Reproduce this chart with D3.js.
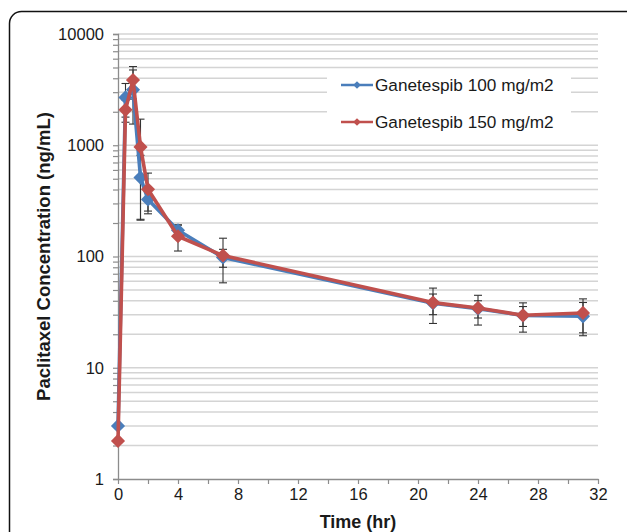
<!DOCTYPE html>
<meta charset="utf-8">
<style>
body { margin: 0; background: #fff; }
text { font-family: "Liberation Sans", Arial, sans-serif; fill: #1a1a1a; }
</style>
<svg width="627" height="532"></svg>
<script src="https://d3js.org/d3.v7.min.js"></script>
<script>

// sampling times (hr)
var timesHr = [0, 0.5, 1, 1.5, 2, 4, 7, 21, 24, 27, 31];

// mean paclitaxel concentration (ng/mL) and SD per dose group
var conc100 = [3, 2690, 3150, 512, 326, 172, 98, 38, 34, 29.5, 29];
var sd100   = [0, 900, 1600, 300, 70, 20, 18, 8, 6, 6, 9.6];
var conc150 = [2.2, 2080, 3850, 966, 402, 152, 102, 38.5, 34.5, 29.6, 31.1];
var sd150   = [0, 470, 1250, 750, 160, 40, 44, 13.5, 10.3, 8.7, 10.5];

var seriesNames = ["Ganetespib 100 mg/m2", "Ganetespib 150 mg/m2"];
var seriesColors = ["#4a7ebb", "#c0504d"];

var xTickLabels = [0, 4, 8, 12, 16, 20, 24, 28, 32];
var xMinorTicks = [2, 6, 10, 14, 18, 22, 26, 30];
var yTickLabels = [1, 10, 100, 1000, 10000];

var svg = d3.select("svg"),
    margin = {top: 34, right: 29, bottom: 53, left: 118},
    width = +svg.attr("width"),
    height = +svg.attr("height");

var x = d3.scaleLinear()
    .domain([0, 32])
    .range([margin.left, width - margin.right]);

var y = d3.scaleLog()
    .domain([1, 10000])
    .range([height - margin.bottom, margin.top]);

// outer frame
svg.append("rect")
    .attr("x", 9.5).attr("y", 11.5)
    .attr("width", 640).attr("height", 560)
    .attr("rx", 12)
    .attr("fill", "none")
    .attr("stroke", "#111")
    .attr("stroke-width", 1.5);

// minor values for grid (1..9 x each decade)
var gridVals = [];
yTickLabels.slice(0, -1).forEach(function(dec) {
  for (var k = 1; k <= 9; k++) gridVals.push(dec * k);
});
gridVals.push(10000);

svg.append("g")
    .attr("stroke", "#d4d4d4")
    .attr("stroke-width", 1.5)
  .selectAll("line")
  .data(gridVals.filter(function(d) { return d > 1; }))
  .enter().append("line")
    .attr("x1", x(0)).attr("x2", x(32))
    .attr("y1", function(d) { return y(d); })
    .attr("y2", function(d) { return y(d); });

// y axis
var yAxis = svg.append("g")
    .attr("transform", "translate(" + x(0) + ",0)")
    .call(d3.axisLeft(y)
      .tickValues(gridVals)
      .tickSize(5)
      .tickFormat(function(d) { return yTickLabels.indexOf(d) >= 0 ? d : ""; }));
yAxis.select(".domain").attr("stroke", "#8c8c8c").attr("stroke-width", 1.3);
yAxis.selectAll(".tick line").attr("stroke", "#8c8c8c").attr("stroke-width", 1.2);
yAxis.selectAll(".tick text")
    .attr("x", -14)
    .style("font-size", "16.5px")
    .style("font-family", "Liberation Sans, Arial, sans-serif")
    .attr("fill", "#1a1a1a");

// x axis
var xAxis = svg.append("g")
    .attr("transform", "translate(0," + y(1) + ")")
    .call(d3.axisBottom(x)
      .tickValues(xTickLabels.concat(xMinorTicks))
      .tickSize(5)
      .tickSizeOuter(0)
      .tickFormat(function(d) { return xTickLabels.indexOf(d) >= 0 ? d : ""; }));
xAxis.select(".domain").attr("stroke", "#8c8c8c").attr("stroke-width", 1.3);
xAxis.selectAll(".tick line").attr("stroke", "#8c8c8c").attr("stroke-width", 1.2);
xAxis.selectAll(".tick text")
    .attr("y", 9)
    .style("font-size", "16.5px")
    .style("font-family", "Liberation Sans, Arial, sans-serif")
    .attr("fill", "#1a1a1a");

// axis titles
svg.append("text")
    .attr("x", (x(0) + x(32)) / 2)
    .attr("y", 528)
    .attr("text-anchor", "middle")
    .attr("font-weight", "bold")
    .style("font-size", "18px")
    .text("Time (hr)");

svg.append("text")
    .attr("transform", "translate(50," + ((y(1) + y(10000)) / 2) + ") rotate(-90)")
    .attr("text-anchor", "middle")
    .attr("font-weight", "bold")
    .style("font-size", "18.5px")
    .text("Paclitaxel Concentration (ng/mL)");

var series = [
  {name: seriesNames[0], color: seriesColors[0], mean: conc100, sd: sd100},
  {name: seriesNames[1], color: seriesColors[1], mean: conc150, sd: sd150}
];

series.forEach(function(s) {
  s.points = timesHr.map(function(t, i) {
    return {t: t, v: s.mean[i], sd: s.sd[i]};
  });
});

// error bars
var err = svg.append("g")
    .attr("stroke", "#333")
    .attr("stroke-width", 1.1);
series.forEach(function(s) {
  var pts = s.points.filter(function(d) { return d.sd > 0; });
  var g = err.selectAll(null).data(pts).enter().append("g");
  g.append("line")
      .attr("x1", function(d) { return x(d.t); })
      .attr("x2", function(d) { return x(d.t); })
      .attr("y1", function(d) { return y(d.v + d.sd); })
      .attr("y2", function(d) { return y(d.v - d.sd); });
  [1, -1].forEach(function(sign) {
    g.append("line")
        .attr("x1", function(d) { return x(d.t) - 4; })
        .attr("x2", function(d) { return x(d.t) + 4; })
        .attr("y1", function(d) { return y(d.v + sign * d.sd); })
        .attr("y2", function(d) { return y(d.v + sign * d.sd); });
  });
});

var line = d3.line()
    .x(function(d) { return x(d.t); })
    .y(function(d) { return y(d.v); });

var diamond = d3.symbol().type(d3.symbolSquare).size(100);

series.forEach(function(s) {
  svg.append("path")
      .datum(s.points)
      .attr("fill", "none")
      .attr("stroke", s.color)
      .attr("stroke-width", 3.6)
      .attr("stroke-linejoin", "round")
      .attr("d", line);
  svg.append("g").selectAll("path")
    .data(s.points)
    .enter().append("path")
      .attr("d", diamond)
      .attr("fill", s.color)
      .attr("transform", function(d) {
        return "translate(" + x(d.t) + "," + y(d.v) + ") rotate(45)";
      });
});

// legend
var legend = svg.append("g");
legend.append("rect")
    .attr("x", 327).attr("y", 70)
    .attr("width", 244).attr("height", 73)
    .attr("fill", "#fff");

var item = legend.selectAll("g.item")
    .data(series)
    .enter().append("g")
    .attr("class", "item")
    .attr("transform", function(d, i) { return "translate(341," + (85 + i * 37) + ")"; });
item.append("line")
    .attr("x1", 0).attr("x2", 32)
    .attr("stroke", function(d) { return d.color; })
    .attr("stroke-width", 2.5);
item.append("path")
    .attr("d", d3.symbol().type(d3.symbolSquare).size(30))
    .attr("transform", "translate(16,0) rotate(45)")
    .attr("fill", function(d) { return d.color; });
item.append("text")
    .attr("x", 34)
    .attr("dy", "0.36em")
    .style("font-size", "17.2px")
    .text(function(d) { return d.name; });

</script>
